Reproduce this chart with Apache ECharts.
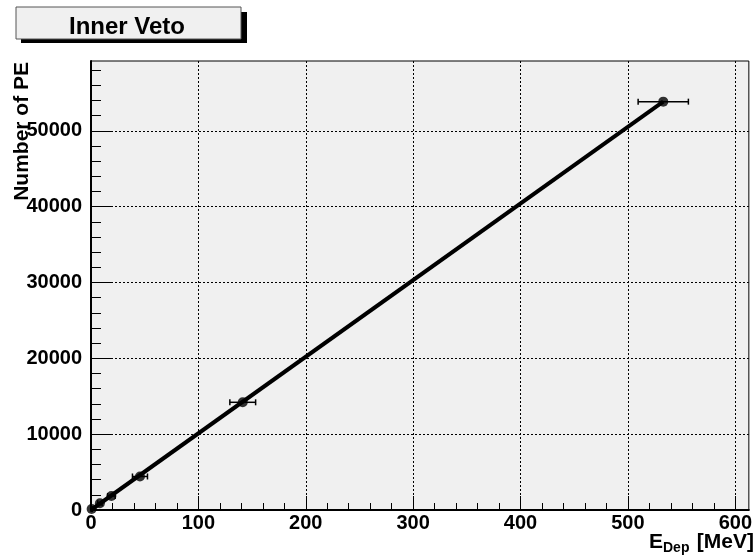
<!DOCTYPE html>
<html>
<head>
<meta charset="utf-8">
<script src="https://cdn.jsdelivr.net/npm/echarts@6/dist/echarts.min.js"></script>
<style>
  html, body { margin: 0; padding: 0; background: #ffffff; }
  #chart { width: 755px; height: 560px; }
</style>
</head>
<body>
<div id="chart"></div>
<script>
// Measured points: deposited energy (MeV), photoelectrons, energy uncertainty (MeV)
const energyMeV = [0.6, 8.3, 19, 45.6, 141.3, 532.9];
const numPE = [130, 880, 1850, 4420, 14200, 53840];
const energyErr = [0.5, 2, 3.5, 7, 12, 23.4];

// Linear fit drawn between its two end points
const fitEnergy = [0, 532.9];
const fitPE = [0, 53840];

// Axis ranges and tick values
const xRange = [0, 612.6];
const yRange = [0, 59200];
const xMajorTicks = [0, 100, 200, 300, 400, 500, 600];
const yMajorTicks = [0, 10000, 20000, 30000, 40000, 50000];
const xMinorStep = 20;
const yMinorStep = 2000;

const xMinorTicks = [];
for (let v = xMinorStep; v <= xRange[1]; v += xMinorStep) {
  if (v % 100 !== 0) xMinorTicks.push(v);
}
const yMinorTicks = [];
for (let v = yMinorStep; v <= yRange[1]; v += yMinorStep) {
  if (v % 10000 !== 0) yMinorTicks.push(v);
}

const FONT = '"Liberation Sans", Arial, Helvetica, sans-serif';
const GRID = { left: 91, right: 1, top: 61, bottom: 50 };
const plain = v => String(v);

const chart = echarts.init(document.getElementById('chart'), null, { renderer: 'canvas' });

const dotted = { color: '#000', width: 1, type: [2, 2] };

const option = {
  animation: false,
  backgroundColor: '#ffffff',
  grid: Object.assign({ show: true, backgroundColor: '#f0f0f0', borderColor: '#000', borderWidth: 1 }, GRID),
  xAxis: [
    {
      type: 'value', min: xRange[0], max: xRange[1], position: 'bottom',
      axisLine: { show: true, onZero: false, lineStyle: { color: '#000', width: 2 } },
      axisTick: { show: true, inside: true, length: 14, customValues: xMajorTicks, lineStyle: { color: '#000', width: 1 } },
      axisLabel: { show: true, customValues: xMajorTicks, formatter: plain, margin: 3, color: '#000', fontFamily: FONT, fontWeight: 'bold', fontSize: 20 },
      splitLine: { show: true, lineStyle: dotted },
      minorTick: { show: false }
    },
    {
      type: 'value', min: xRange[0], max: xRange[1], position: 'bottom',
      axisLine: { show: false },
      axisTick: { show: true, inside: true, length: 7, customValues: xMinorTicks, lineStyle: { color: '#000', width: 1 } },
      axisLabel: { show: false },
      splitLine: { show: false }
    }
  ],
  yAxis: [
    {
      type: 'value', min: yRange[0], max: yRange[1], position: 'left',
      axisLine: { show: true, onZero: false, lineStyle: { color: '#000', width: 2 } },
      axisTick: { show: true, inside: true, length: 20, customValues: yMajorTicks, lineStyle: { color: '#000', width: 1 } },
      axisLabel: { show: true, customValues: yMajorTicks, formatter: plain, margin: 9, color: '#000', fontFamily: FONT, fontWeight: 'bold', fontSize: 20 },
      splitLine: { show: true, lineStyle: dotted },
      minorTick: { show: false }
    },
    {
      type: 'value', min: yRange[0], max: yRange[1], position: 'left',
      axisLine: { show: false },
      axisTick: { show: true, inside: true, length: 10, customValues: yMinorTicks, lineStyle: { color: '#000', width: 1 } },
      axisLabel: { show: false },
      splitLine: { show: false }
    }
  ],
  series: [
    {
      name: 'fit', type: 'line', xAxisIndex: 0, yAxisIndex: 0,
      data: fitEnergy.map((x, i) => [x, fitPE[i]]),
      symbol: 'none', lineStyle: { color: '#000', width: 4 }, z: 2
    },
    {
      name: 'errors', type: 'custom', xAxisIndex: 0, yAxisIndex: 0,
      data: energyMeV.map((x, i) => [x, numPE[i], energyErr[i]]),
      renderItem: function (params, api) {
        const x = api.value(0), y = api.value(1), e = api.value(2);
        const a = api.coord([x - e, y]);
        const b = api.coord([x + e, y]);
        const cap = 3;
        const st = { stroke: '#000', lineWidth: 1.5 };
        return {
          type: 'group',
          children: [
            { type: 'line', shape: { x1: a[0], y1: a[1], x2: b[0], y2: b[1] }, style: st },
            { type: 'line', shape: { x1: a[0], y1: a[1] - cap, x2: a[0], y2: a[1] + cap }, style: st },
            { type: 'line', shape: { x1: b[0], y1: b[1] - cap, x2: b[0], y2: b[1] + cap }, style: st }
          ]
        };
      },
      z: 3
    },
    {
      name: 'data', type: 'scatter', xAxisIndex: 0, yAxisIndex: 0,
      data: energyMeV.map((x, i) => [x, numPE[i]]),
      symbol: 'circle', symbolSize: 10, itemStyle: { color: '#000' }, z: 4
    }
  ],
  graphic: [
    // title box with drop shadow
    { type: 'rect', shape: { x: 21, y: 12, width: 226, height: 31 }, style: { fill: '#000' }, z: 10 },
    { type: 'rect', shape: { x: 16, y: 7, width: 225, height: 32 }, style: { fill: '#f0f0f0', stroke: '#555', lineWidth: 1 }, z: 11 },
    { type: 'text', x: 127, y: 27, style: { text: 'Inner Veto', fill: '#000', font: 'bold 24px ' + FONT, align: 'center', verticalAlign: 'middle' }, z: 12 },
    // y-axis title
    { type: 'text', x: 22.5, y: 62, rotation: Math.PI / 2, style: { text: 'Number of PE', fill: '#000', font: 'bold 21px ' + FONT, align: 'right', verticalAlign: 'middle' }, z: 12 },
    // x-axis title: E_Dep [MeV]
    { type: 'text', x: 754, y: 542.5, style: { text: '[MeV]', fill: '#000', font: 'bold 21px ' + FONT, align: 'right', verticalAlign: 'middle' }, z: 12 },
    { type: 'text', x: 663, y: 548, style: { text: 'Dep', fill: '#000', font: 'bold 14px ' + FONT, align: 'left', verticalAlign: 'middle' }, z: 12 },
    { type: 'text', x: 663, y: 542.5, style: { text: 'E', fill: '#000', font: 'bold 21px ' + FONT, align: 'right', verticalAlign: 'middle' }, z: 12 }
  ]
};

chart.setOption(option);
</script>
</body>
</html>
